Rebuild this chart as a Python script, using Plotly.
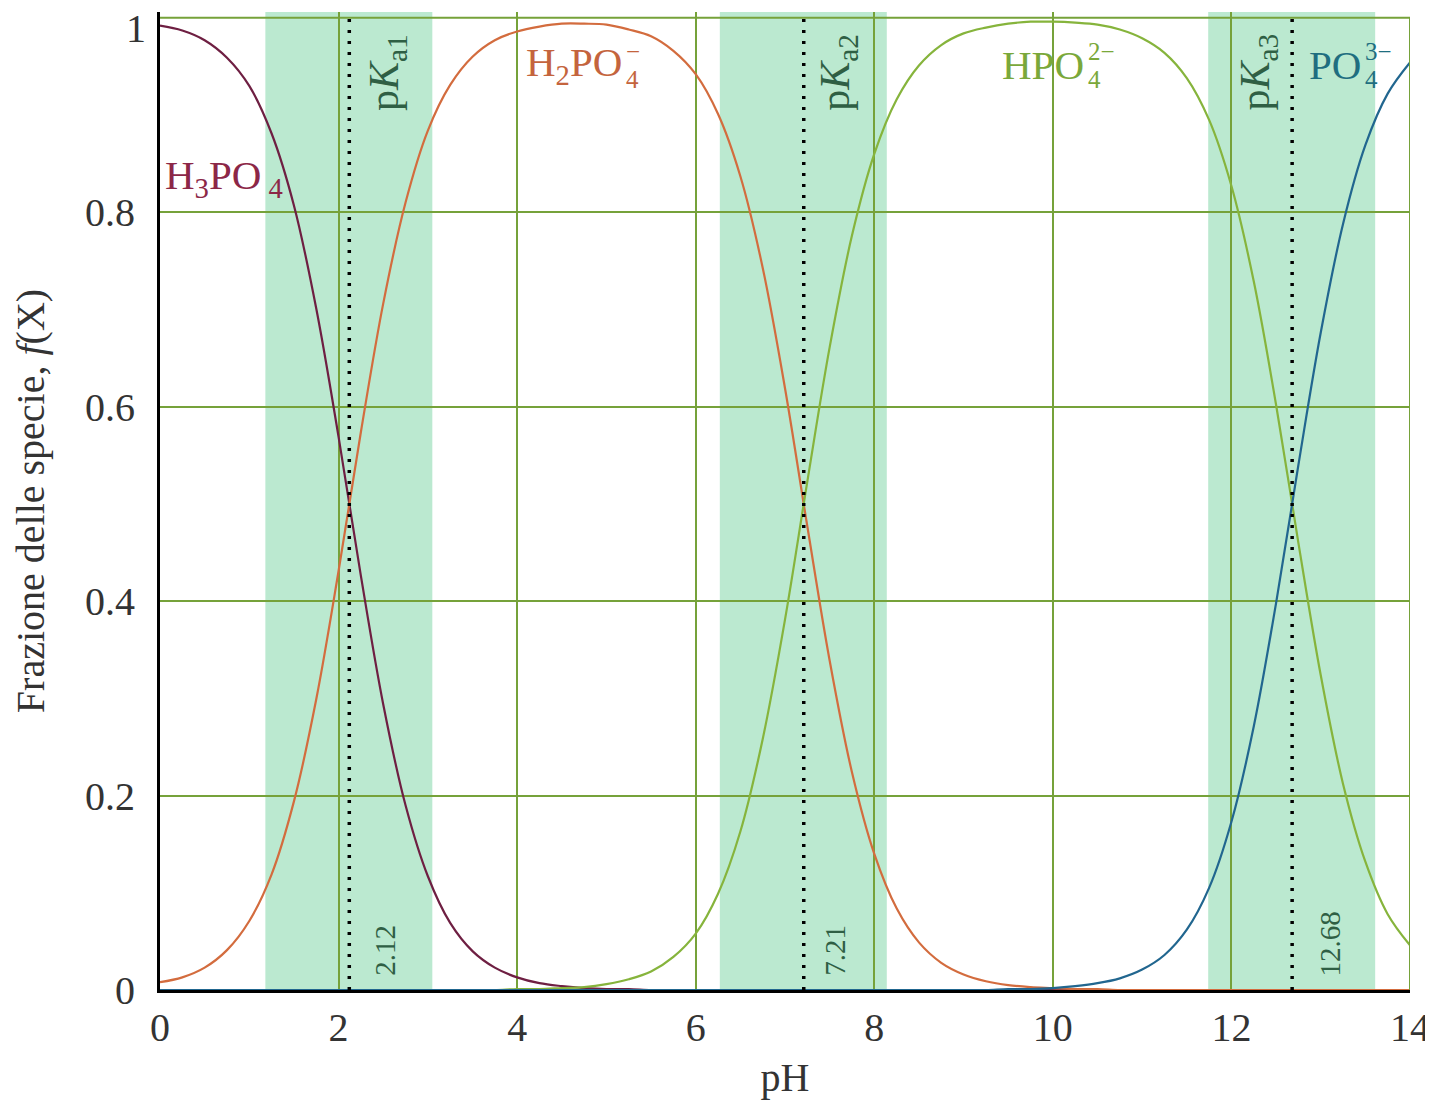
#!/usr/bin/env python3
"""Distribuzione delle specie dell'acido fosforico in funzione del pH."""

import plotly.graph_objects as go

# pH grid (0.25 step) and fractions
ph = [i * 0.25 for i in range(57)]

h3po4 = [0.992, 0.987, 0.977, 0.959, 0.930, 0.881, 0.807, 0.701, 0.569, 0.426,
         0.294, 0.190, 0.117, 0.069, 0.040, 0.023, 0.013, 0.007, 0.004, 0.002,
         0.001, 0.001, 0.000, 0.000, 0.000, 0.000, 0.000, 0.000, 0.000, 0.000,
         0.000, 0.000, 0.000, 0.000, 0.000, 0.000, 0.000, 0.000, 0.000, 0.000,
         0.000, 0.000, 0.000, 0.000, 0.000, 0.000, 0.000, 0.000, 0.000, 0.000,
         0.000, 0.000, 0.000, 0.000, 0.000, 0.000, 0.000]

h2po4 = [0.008, 0.013, 0.023, 0.041, 0.071, 0.119, 0.194, 0.299, 0.431, 0.574,
         0.706, 0.810, 0.884, 0.931, 0.960, 0.977, 0.986, 0.991, 0.994, 0.994,
         0.993, 0.988, 0.981, 0.966, 0.942, 0.901, 0.837, 0.743, 0.619, 0.477,
         0.339, 0.224, 0.140, 0.084, 0.049, 0.028, 0.016, 0.009, 0.005, 0.003,
         0.002, 0.001, 0.001, 0.000, 0.000, 0.000, 0.000, 0.000, 0.000, 0.000,
         0.000, 0.000, 0.000, 0.000, 0.000, 0.000, 0.000]

hpo4 = [0.000, 0.000, 0.000, 0.000, 0.000, 0.000, 0.000, 0.000, 0.000, 0.000,
        0.000, 0.000, 0.000, 0.000, 0.000, 0.000, 0.001, 0.001, 0.002, 0.003,
        0.006, 0.011, 0.019, 0.034, 0.058, 0.099, 0.163, 0.258, 0.381, 0.523,
        0.661, 0.776, 0.860, 0.916, 0.951, 0.972, 0.984, 0.990, 0.994, 0.996,
        0.996, 0.995, 0.993, 0.988, 0.979, 0.964, 0.938, 0.895, 0.827, 0.729,
        0.602, 0.460, 0.324, 0.212, 0.132, 0.078, 0.046]

po4 = [0.000, 0.000, 0.000, 0.000, 0.000, 0.000, 0.000, 0.000, 0.000, 0.000,
       0.000, 0.000, 0.000, 0.000, 0.000, 0.000, 0.000, 0.000, 0.000, 0.000,
       0.000, 0.000, 0.000, 0.000, 0.000, 0.000, 0.000, 0.000, 0.000, 0.000,
       0.000, 0.000, 0.000, 0.000, 0.000, 0.000, 0.000, 0.000, 0.001, 0.001,
       0.002, 0.004, 0.007, 0.012, 0.021, 0.036, 0.062, 0.105, 0.173, 0.271,
       0.398, 0.540, 0.676, 0.788, 0.869, 0.922, 0.954]

pka_values = [2.12, 7.21, 12.68]
pka_names = ['p<i>K</i><sub>a1</sub>', 'p<i>K</i><sub>a2</sub>', 'p<i>K</i><sub>a3</sub>']
x_ticks = [0, 2, 4, 6, 8, 10, 12, 14]
y_ticks = [0, 0.2, 0.4, 0.6, 0.8, 1]
y_tick_text = ['0', '0.2', '0.4', '0.6', '0.8', '1']

SERIF = 'Liberation Serif, Times New Roman, serif'
GRID = '#76a23a'
BAND = '#bbe9d0'
LABEL_GREEN = '#2f5f44'
TEXT = '#333333'

fig = go.Figure()

series = [
    (h3po4, '#6e1f42'),
    (h2po4, '#d36c3e'),
    (hpo4, '#86b43c'),
    (po4, '#21668f'),
]
for vals, color in series:
    fig.add_trace(go.Scatter(
        x=ph, y=vals, mode='lines', line=dict(color=color, width=2.2, shape='spline'),
        showlegend=False, hoverinfo='skip'
    ))

# shaded buffer zones and dotted pKa lines
for pka in pka_values:
    fig.add_shape(type='rect', xref='x', yref='y', x0=pka - 0.94, x1=pka + 0.93,
                  y0=0, y1=1.006, fillcolor=BAND, line_width=0, layer='below')
    fig.add_shape(type='line', xref='x', yref='y', x0=pka, x1=pka, y0=0, y1=1,
                  line=dict(color='black', width=3.5, dash='3px,8px'), layer='above')

# right border
fig.add_shape(type='line', xref='x', yref='y', x0=14, x1=14, y0=0, y1=1,
              line=dict(color=GRID, width=2))

# top tick label (would be hidden at the paper edge otherwise)
fig.add_annotation(xref='paper', x=0, y=y_ticks[-1], text=y_tick_text[-1], showarrow=False,
                   xanchor='right', yanchor='top', xshift=-12, yshift=14,
                   font=dict(family=SERIF, size=40, color=TEXT))

# pKa name labels (rotated)
for x, name in zip([2.55, 7.6, 12.3], pka_names):
    fig.add_annotation(x=x, y=0.944, text=name, textangle=-90, showarrow=False,
                       font=dict(family=SERIF, size=42, color=LABEL_GREEN))

# pKa value labels
for x, pka in zip([2.52, 7.56, 13.1], pka_values):
    fig.add_annotation(x=x, y=0.012, text=f'{pka:.2f}', textangle=-90, showarrow=False,
                       yanchor='bottom', font=dict(family=SERIF, size=29, color=LABEL_GREEN))


def species_label(x, y, base, sub, sup, color):
    """Chemical formula with stacked sub/superscript after base text."""
    fig.add_annotation(x=x, y=y, text=base, showarrow=False, xanchor='right',
                       font=dict(family=SERIF, size=41, color=color))
    if sub:
        fig.add_annotation(x=x, y=y, text=sub, showarrow=False, xanchor='left',
                           yshift=-15, font=dict(family=SERIF, size=25, color=color))
    if sup:
        fig.add_annotation(x=x, y=y, text=sup, showarrow=False, xanchor='left',
                           yshift=13, font=dict(family=SERIF, size=25, color=color))


fig.add_annotation(x=0.03, y=0.835, xanchor='left', showarrow=False,
                   text='H<sub>3</sub>PO<sub> 4</sub>',
                   font=dict(family=SERIF, size=41, color='#8c2747'))
species_label(5.2, 0.952, 'H<sub>2</sub>PO', '4', '\u2212', '#c4643d')
species_label(10.37, 0.952, 'HPO', '4', '2\u2212', '#7aa83a')
species_label(13.47, 0.952, 'PO', '4', '3\u2212', '#1f6e80')

# page body adds an 8px offset, so the figure is 8px smaller than the window
fig.update_layout(
    width=1425, height=1092,
    margin=dict(l=152, r=23, t=4, b=110),
    plot_bgcolor='white', paper_bgcolor='white',
    font=dict(family=SERIF, size=40, color=TEXT),
)
fig.update_xaxes(
    range=[0, 14], tickvals=x_ticks, showgrid=True, gridcolor=GRID, gridwidth=2,
    showline=True, linecolor='black', linewidth=3, zeroline=False, ticks='',
    automargin=False, tickfont=dict(size=40, color=TEXT),
    title=dict(text='pH', font=dict(size=40, color=TEXT), standoff=14),
)
fig.update_yaxes(
    range=[0, 1.006], tickvals=y_ticks[:-1], ticktext=y_tick_text[:-1],
    showgrid=True, gridcolor=GRID, gridwidth=2,
    showline=True, linecolor='black', linewidth=3, zeroline=False, ticks='',
    automargin=False, tickfont=dict(size=40, color=TEXT), ticklabelstandoff=14,
    title=dict(text='Frazione delle specie, <i>f</i>(X)',
               font=dict(size=40, color=TEXT), standoff=30),
)
# gridline at 1 (top border)
fig.add_shape(type='line', xref='x', yref='y', x0=0, x1=14, y0=1, y1=1,
              line=dict(color=GRID, width=2), layer='below')

fig.write_html('out.html')
